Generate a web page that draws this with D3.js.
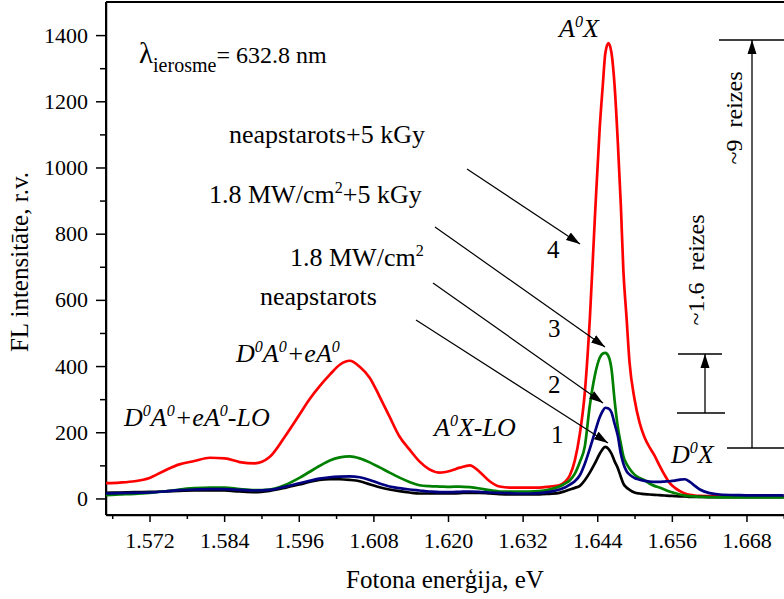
<!DOCTYPE html>
<html>
<head>
<meta charset="utf-8">
<script src="https://cdn.jsdelivr.net/npm/d3@7"></script>
<style>
  body { margin: 0; background: #fff; }
  svg { display: block; overflow: hidden; }
  text { font-family: "Liberation Serif", "Times New Roman", serif; fill: #000; }
  .axis text { font-size: 22px; font-family: "Liberation Serif", "Times New Roman", serif; }
  .axis path, .axis line { stroke: #000; stroke-width: 1.5px; }
  .it { font-style: italic; }
</style>
</head>
<body>
<div id="chart"></div>
<script>
// photon energy, eV
const energy = [1.5649, 1.5672, 1.5696, 1.5720, 1.5744, 1.5768, 1.5792, 1.5817, 1.5841, 1.5865, 1.5889, 1.5913, 1.5937, 1.5961,
  1.5977, 1.5993, 1.6010, 1.6026, 1.6042, 1.6058, 1.6074, 1.6090, 1.6106, 1.6122, 1.6138, 1.6154, 1.6170, 1.6187, 1.6203, 1.6219,
  1.6235, 1.6251, 1.6267, 1.6283, 1.6299, 1.6315, 1.6331, 1.6347, 1.6363, 1.6379,
  1.6388, 1.6396, 1.6404, 1.6412, 1.6420, 1.6428, 1.6436, 1.6444,
  1.6449, 1.6453, 1.6458, 1.6463, 1.6468, 1.6473, 1.6478, 1.6482, 1.6487, 1.6492,
  1.6500, 1.6508, 1.6516, 1.6524, 1.6532, 1.6540, 1.6548, 1.6556, 1.6565, 1.6573, 1.6581, 1.6589, 1.6597, 1.6605,
  1.6621, 1.6637, 1.6669, 1.6701, 1.6740];

// 1 - neapstarots
const curve1 = [17, 18, 19, 20, 21, 23, 24, 24, 24, 21, 19, 23, 32, 42,
  50, 56, 58, 58, 56, 52, 43, 34, 27, 22, 18, 15, 15, 15, 15, 16,
  17, 17, 15, 13, 12, 12, 12, 12, 14, 17,
  22, 27, 32, 38, 55, 78, 105, 135,
  150, 156, 150, 135, 112, 92, 65, 45, 33, 26,
  18, 15, 13, 12, 11, 10, 9, 8, 7, 6, 6, 5, 5, 5,
  4, 4, 4, 4, 4];

// 2 - 1.8 MW/cm2
const curve2 = [15, 16, 17, 18, 21, 25, 27, 28, 28, 26, 24, 26, 35, 46,
  53, 60, 64, 66, 67, 64, 56, 45, 36, 31, 27, 24, 21, 19, 19, 20,
  21, 20, 18, 17, 16, 15, 15, 16, 20, 27,
  33, 42, 52, 70, 105, 150, 199, 245,
  265, 274, 272, 260, 225, 190, 135, 105, 83, 72,
  62, 57, 53, 51, 50, 50, 51, 52, 54, 57, 58, 50, 38, 27,
  16, 12, 10, 9, 9];

// 3 - 1.8 MW/cm2 + 5 kGy
const curve3 = [10, 12, 14, 17, 21, 27, 31, 33, 33, 28, 25, 27, 40, 62,
  80, 98, 115, 124, 127, 121, 109, 94, 78, 63, 50, 40, 37, 36, 35, 36,
  34, 30, 25, 21, 21, 21, 21, 22, 27, 36,
  45, 55, 75, 110, 157, 280, 370, 425,
  438, 440, 430, 390, 295, 217, 165, 128, 105, 90,
  72, 62, 55, 45, 38, 33, 27, 21, 16, 12, 9, 7, 6, 5,
  4, 3, 3, 3, 3];

// 4 - neapstarots + 5 kGy
const curve4 = [46, 48, 52, 62, 84, 103, 113, 123, 121, 110, 106, 125, 185, 253,
  299, 338, 374, 404, 416, 398, 365, 308, 247, 187, 148, 112, 88, 78, 83, 93,
  100, 80, 52, 36, 33, 33, 33, 33, 36, 40,
  50, 70, 115, 195, 320, 540, 840, 1120,
  1250, 1345, 1376, 1345, 1245, 1080, 884, 690, 550, 410,
  300, 230, 185, 155, 130, 100, 72, 48, 32, 22, 15, 11, 9, 8,
  7, 6, 6, 6, 6];

const seriesColors = ["#000000", "#000080", "#008000", "#ff0000"];

const xMajor = [1.572, 1.584, 1.596, 1.608, 1.620, 1.632, 1.644, 1.656, 1.668];
const xMinor = [1.566, 1.578, 1.590, 1.602, 1.614, 1.626, 1.638, 1.650, 1.662, 1.674];
const yMajor = [0, 200, 400, 600, 800, 1000, 1200, 1400];
const yMinor = [100, 300, 500, 700, 900, 1100, 1300];

const W = 784, H = 599;
const margin = {top: 2, left: 106, bottom: 84};
const plotW = 684;
const plotH = H - margin.top - margin.bottom;

const svg = d3.select("#chart").append("svg")
  .attr("width", W).attr("height", H);

const x = d3.scaleLinear().domain([1.565, 1.675]).range([0, plotW]);
const y = d3.scaleLinear().domain([-50, 1500]).range([plotH, 0]);

const g = svg.append("g").attr("transform", `translate(${margin.left},${margin.top})`);

const defs = svg.append("defs");
defs.append("clipPath").attr("id", "clip")
  .append("rect").attr("width", plotW).attr("height", plotH);

defs.append("marker")
  .attr("id", "head")
  .attr("markerUnits", "userSpaceOnUse")
  .attr("viewBox", "0 -5 14 10")
  .attr("refX", 14).attr("refY", 0)
  .attr("markerWidth", 14).attr("markerHeight", 10)
  .attr("orient", "auto")
  .append("path").attr("d", "M0,-4.5L14,0L0,4.5Z").attr("fill", "#000");

// axes
g.append("g").attr("class", "axis")
  .attr("transform", `translate(0,${plotH})`)
  .call(d3.axisBottom(x).tickValues(xMajor).tickSize(7).tickSizeOuter(0).tickPadding(10)
    .tickFormat(d3.format(".3f")))
  .attr("font-family", null);
g.append("g").attr("class", "axis")
  .attr("transform", `translate(0,${plotH})`)
  .call(d3.axisBottom(x).tickValues(xMinor).tickSize(4).tickSizeOuter(0).tickFormat(""))
  .select(".domain").remove();

g.append("g").attr("class", "axis")
  .call(d3.axisLeft(y).tickValues(yMajor).tickSize(10).tickSizeOuter(0).tickPadding(8)
    .tickFormat(d3.format("d")))
  .attr("font-family", null);
g.append("g").attr("class", "axis")
  .call(d3.axisLeft(y).tickValues(yMinor).tickSize(6).tickSizeOuter(0).tickFormat(""))
  .select(".domain").remove();

// frame
g.append("line").attr("x1", 0).attr("x2", plotW).attr("y1", 0).attr("y2", 0)
  .attr("stroke", "#000").attr("stroke-width", 2);
g.append("line").attr("x1", 0).attr("x2", 0).attr("y1", 0).attr("y2", plotH)
  .attr("stroke", "#000").attr("stroke-width", 2);
g.append("line").attr("x1", 0).attr("x2", plotW).attr("y1", plotH).attr("y2", plotH)
  .attr("stroke", "#000").attr("stroke-width", 2);

// curves
const line = d3.line()
  .x(d => x(d[0]))
  .y(d => y(d[1]))
  .curve(d3.curveMonotoneX);

const allCurves = [curve4, curve1, curve3, curve2];
const allColors = [seriesColors[3], seriesColors[0], seriesColors[2], seriesColors[1]];

g.append("g").attr("clip-path", "url(#clip)")
  .selectAll("path")
  .data(allCurves)
  .join("path")
  .attr("d", vals => line(energy.map((e, i) => [e, vals[i]])))
  .attr("fill", "none")
  .attr("stroke", (d, i) => allColors[i])
  .attr("stroke-width", 2.7)
  .attr("stroke-linejoin", "round");

// axis titles
svg.append("text")
  .attr("transform", "translate(28,262) rotate(-90)")
  .attr("text-anchor", "middle")
  .style("font-size", "25px")
  .text("FL intensitāte, r.v.");

svg.append("text")
  .attr("x", 445).attr("y", 588)
  .attr("text-anchor", "middle")
  .style("font-size", "25px")
  .text("Fotona enerģija, eV");

// annotations
const ann = svg.append("g");

const lam = ann.append("text").attr("x", 139).attr("y", 63);
lam.append("tspan").style("font-size", "29px").text("λ");
lam.append("tspan").style("font-size", "20px").attr("dy", 9).text("ierosme");
lam.append("tspan").style("font-size", "24px").attr("dy", -9).text("= 632.8 nm");

// text with superscripts: parts alternate normal text and {sup}
function supText(sel, parts, size, supDy) {
  let shift = 0;
  parts.forEach(p => {
    const ts = sel.append("tspan");
    if (typeof p === "object") {
      ts.attr("dy", -supDy - shift).style("font-size", (size * 0.62) + "px").text(p.sup);
      shift = -supDy;
    } else {
      ts.attr("dy", -shift).text(p);
      shift = 0;
    }
  });
}

function italicLabel(xp, yp, parts) {
  const t = ann.append("text").attr("x", xp).attr("y", yp)
    .attr("class", "it").style("font-size", "26px");
  supText(t, parts, 26, 10);
}

italicLabel(559, 37, ["A", {sup: "0"}, "X"]);
italicLabel(236, 362, ["D", {sup: "0"}, "A", {sup: "0"}, "+eA", {sup: "0"}]);
italicLabel(124, 426, ["D", {sup: "0"}, "A", {sup: "0"}, "+eA", {sup: "0"}, "-LO"]);
italicLabel(434, 436, ["A", {sup: "0"}, "X-LO"]);
italicLabel(671, 463, ["D", {sup: "0"}, "X"]);

function plain(xp, yp, parts, size) {
  const t = ann.append("text").attr("x", xp).attr("y", yp).style("font-size", size + "px");
  supText(t, parts, size, 10);
}
plain(229, 143, ["neapstarots+5 kGy"], 26);
plain(209, 203, ["1.8 MW/cm", {sup: "2"}, "+5 kGy"], 26);
plain(290, 266, ["1.8 MW/cm", {sup: "2"}], 26);
plain(260, 305, ["neapstarots"], 26);

plain(547, 258, ["4"], 25);
plain(548, 337, ["3"], 25);
plain(548, 393, ["2"], 25);
plain(551, 443, ["1"], 25);

// diagonal arrows
const arrows = [
  [467, 169, 580, 244],
  [435, 227, 605, 347],
  [433, 283, 603, 403],
  [416, 320, 608, 443]
];
ann.selectAll(".arr").data(arrows).join("line")
  .attr("class", "arr")
  .attr("x1", d => d[0]).attr("y1", d => d[1])
  .attr("x2", d => d[2]).attr("y2", d => d[3])
  .attr("stroke", "#000").attr("stroke-width", 1.2)
  .attr("marker-end", "url(#head)");

// ratio markers
function hline(x1, x2, yy) {
  ann.append("line").attr("x1", x1).attr("x2", x2).attr("y1", yy).attr("y2", yy)
    .attr("stroke", "#000").attr("stroke-width", 1.3);
}
hline(719, 784, 40);
hline(727, 784, 448);
ann.append("line").attr("x1", 752).attr("x2", 752).attr("y1", 448).attr("y2", 40)
  .attr("stroke", "#000").attr("stroke-width", 1.3).attr("marker-end", "url(#head)");

hline(678, 722, 354);
hline(677, 725, 413);
ann.append("line").attr("x1", 705).attr("x2", 705).attr("y1", 413).attr("y2", 354)
  .attr("stroke", "#000").attr("stroke-width", 1.3).attr("marker-end", "url(#head)");

ann.append("text")
  .attr("transform", "translate(742,118) rotate(-90)")
  .attr("text-anchor", "middle")
  .style("font-size", "24px").style("white-space", "pre")
  .text("~9  reizes");
ann.append("text")
  .attr("transform", "translate(704,270) rotate(-90)")
  .attr("text-anchor", "middle")
  .style("font-size", "24px").style("white-space", "pre")
  .text("~1.6  reizes");
</script>
</body>
</html>
